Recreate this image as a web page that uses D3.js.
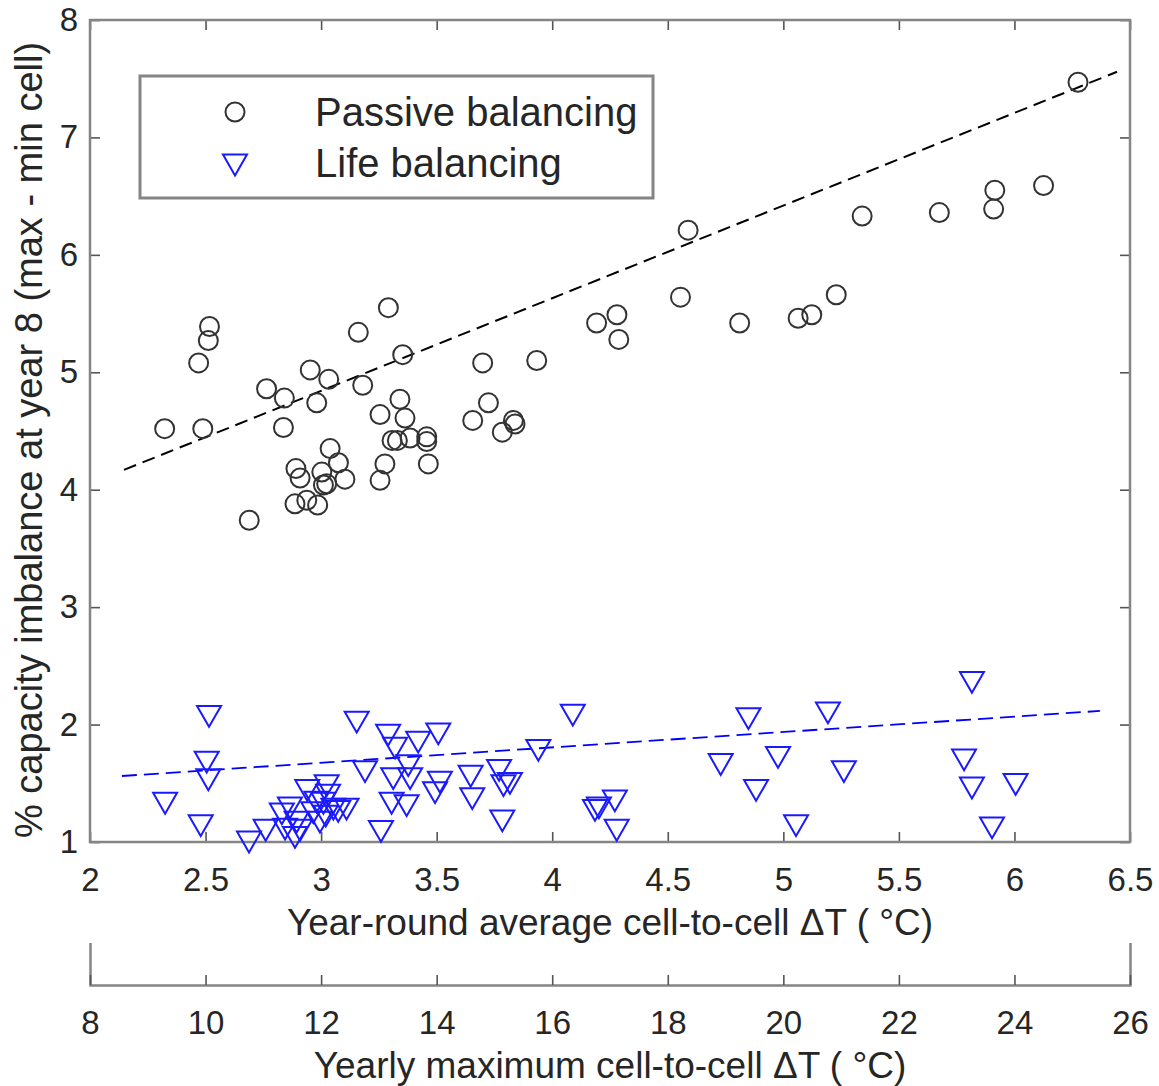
<!DOCTYPE html>
<html>
<head>
<meta charset="utf-8">
<script src="https://cdn.jsdelivr.net/npm/d3@7"></script>
<style>
  body { margin: 0; background: #fff; }
  svg { display: block; font-family: "Liberation Sans", Arial, sans-serif; }
</style>
</head>
<body>
<div id="chart"></div>
<script>
// Passive balancing: [avg dT, % imbalance]
const passive = [
  [2.323, 4.52], [2.470, 5.08], [2.517, 5.39], [2.512, 5.27], [2.488, 4.52],
  [2.689, 3.74], [2.764, 4.86], [2.841, 4.78], [2.837, 4.53], [2.953, 5.02],
  [3.033, 4.94], [2.981, 4.74], [3.161, 5.34], [3.291, 5.55], [3.180, 4.89],
  [3.039, 4.35], [3.075, 4.23], [3.103, 4.09], [2.891, 4.18], [2.909, 4.10],
  [3.003, 4.15], [3.024, 4.05], [3.010, 4.04], [2.887, 3.88], [2.938, 3.91],
  [2.985, 3.87], [3.255, 4.64], [3.276, 4.22], [3.255, 4.08], [3.353, 5.15],
  [3.341, 4.77], [3.363, 4.61], [3.330, 4.42], [3.307, 4.42], [3.385, 4.44],
  [3.457, 4.45], [3.457, 4.41], [3.464, 4.22], [3.699, 5.08], [3.933, 5.10],
  [3.724, 4.74], [3.656, 4.59], [3.784, 4.49], [3.832, 4.59], [3.839, 4.56],
  [4.192, 5.42], [4.280, 5.49], [4.288, 5.28], [4.555, 5.64], [4.588, 6.21],
  [4.811, 5.42], [5.064, 5.46], [5.123, 5.49], [5.229, 5.66], [5.341, 6.33],
  [5.675, 6.36], [5.915, 6.55], [5.910, 6.39], [6.126, 6.59], [6.275, 7.47]
];

// Life balancing
const life = [
  [2.515, 2.07], [2.505, 1.68], [2.512, 1.53], [2.325, 1.33], [2.479, 1.14],
  [2.688, 1.00], [2.760, 1.10], [2.830, 1.24], [2.865, 1.29], [2.844, 1.11],
  [2.887, 1.04], [2.894, 1.17], [2.909, 1.10], [2.940, 1.44], [2.966, 1.25],
  [2.980, 1.34], [2.995, 1.17], [3.024, 1.48], [3.030, 1.40], [3.010, 1.33],
  [3.053, 1.28], [3.074, 1.26], [3.110, 1.28], [3.020, 1.22],
  [3.154, 2.02], [3.190, 1.60], [3.259, 1.09], [3.290, 1.91], [3.320, 1.80],
  [3.420, 1.85], [3.507, 1.92], [3.377, 1.65], [3.312, 1.54], [3.385, 1.54],
  [3.305, 1.33], [3.370, 1.31], [3.514, 1.51], [3.493, 1.42], [3.647, 1.56],
  [3.654, 1.37], [3.770, 1.61], [3.789, 1.48], [3.817, 1.50], [3.784, 1.18],
  [3.940, 1.78], [4.089, 2.08], [4.185, 1.27], [4.202, 1.29], [4.271, 1.35],
  [4.279, 1.10], [4.849, 2.05], [5.193, 2.10], [5.816, 2.36], [4.729, 1.66],
  [4.977, 1.72], [5.262, 1.60], [4.882, 1.44], [5.782, 1.70], [5.816, 1.46],
  [6.005, 1.49], [5.903, 1.12], [5.055, 1.14]
];

// fitted trend lines (end points)
const passiveFit = [[2.147, 4.169], [6.444, 7.559]];
const lifeFit = [[2.138, 1.562], [6.370, 2.116]];

const xTicks = [2, 2.5, 3, 3.5, 4, 4.5, 5, 5.5, 6, 6.5];
const xTickLabels = ["2", "2.5", "3", "3.5", "4", "4.5", "5", "5.5", "6", "6.5"];
const yTicks = [1, 2, 3, 4, 5, 6, 7, 8];
const x2Ticks = [8, 10, 12, 14, 16, 18, 20, 22, 24, 26];

const width = 1159, height = 1086;
const marginLeft = 90, plotRight = 1130, plotTop = 20, plotBottom = 842;
const axis2Y = 985;

const x = d3.scaleLinear().domain([2, 6.5]).range([marginLeft, plotRight]);
const y = d3.scaleLinear().domain([1, 8]).range([plotBottom, plotTop]);
const x2 = d3.scaleLinear().domain([8, 26]).range([marginLeft, plotRight]);

const svg = d3.select("#chart").append("svg")
  .attr("width", width)
  .attr("height", height);

const textColor = "#262626";
const tickFont = 33;

function styleAxis(g) {
  g.selectAll(".tick line").attr("stroke", "#555").attr("stroke-width", 1.6);
  g.selectAll(".tick text").attr("fill", textColor).attr("font-size", tickFont)
    .attr("font-family", "Liberation Sans, Arial, sans-serif");
}

// bottom axis
svg.append("g")
  .attr("transform", `translate(0,${plotBottom})`)
  .call(d3.axisBottom(x).tickValues(xTicks)
    .tickFormat((d, i) => xTickLabels[i])
    .tickSize(-10).tickSizeOuter(0).tickPadding(26))
  .call(g => g.select(".domain").remove())
  .call(styleAxis);

// top axis (ticks only)
svg.append("g")
  .attr("transform", `translate(0,${plotTop})`)
  .call(d3.axisTop(x).tickValues(xTicks).tickFormat("").tickSize(-10).tickSizeOuter(0))
  .call(g => g.select(".domain").remove())
  .call(styleAxis);

// left axis
svg.append("g")
  .attr("transform", `translate(${marginLeft},0)`)
  .call(d3.axisLeft(y).tickValues(yTicks).tickFormat(d3.format("d"))
    .tickSize(-10).tickSizeOuter(0).tickPadding(12))
  .call(g => g.select(".domain").remove())
  .call(styleAxis);

// right axis (ticks only)
svg.append("g")
  .attr("transform", `translate(${plotRight},0)`)
  .call(d3.axisRight(y).tickValues(yTicks).tickFormat("").tickSize(-10).tickSizeOuter(0))
  .call(g => g.select(".domain").remove())
  .call(styleAxis);

// box
svg.append("rect")
  .attr("x", marginLeft).attr("y", plotTop)
  .attr("width", plotRight - marginLeft).attr("height", plotBottom - plotTop)
  .attr("fill", "none").attr("stroke", "#858585").attr("stroke-width", 2.5);

// trend lines
const line = d3.line().x(d => x(d[0])).y(d => y(d[1]));
svg.append("path").datum(passiveFit).attr("d", line)
  .attr("fill", "none").attr("stroke", "#000").attr("stroke-width", 2)
  .attr("stroke-dasharray", "13,7");
svg.append("path").datum(lifeFit).attr("d", line)
  .attr("fill", "none").attr("stroke", "#0000ff").attr("stroke-width", 1.8)
  .attr("stroke-dasharray", "15,7");

// markers
const tri = "M-12,-10.4L12,-10.4L0,10.4Z";

svg.append("g").selectAll("circle").data(passive).join("circle")
  .attr("cx", d => x(d[0])).attr("cy", d => y(d[1])).attr("r", 9.5)
  .attr("fill", "none").attr("stroke", "#333").attr("stroke-width", 2);

svg.append("g").selectAll("path").data(life).join("path")
  .attr("transform", d => `translate(${x(d[0])},${y(d[1])})`)
  .attr("d", tri)
  .attr("fill", "none").attr("stroke", "#1a1aff").attr("stroke-width", 2)
  .attr("stroke-linejoin", "miter");

// legend
const legend = svg.append("g");
legend.append("rect")
  .attr("x", 140).attr("y", 76).attr("width", 513).attr("height", 122)
  .attr("fill", "#fff").attr("stroke", "#858585").attr("stroke-width", 3);
legend.append("circle").attr("cx", 235).attr("cy", 112).attr("r", 9.5)
  .attr("fill", "none").attr("stroke", "#333").attr("stroke-width", 2);
legend.append("path").attr("transform", "translate(235,165)").attr("d", tri)
  .attr("fill", "none").attr("stroke", "#1a1aff").attr("stroke-width", 2);
legend.append("text").attr("x", 315).attr("y", 126).attr("font-size", 40)
  .attr("fill", textColor).text("Passive balancing");
legend.append("text").attr("x", 315).attr("y", 177).attr("font-size", 40)
  .attr("fill", textColor).text("Life balancing");

// axis titles
svg.append("text")
  .attr("x", (marginLeft + plotRight) / 2).attr("y", 935)
  .attr("text-anchor", "middle").attr("font-size", 37).attr("fill", textColor)
  .text("Year-round average cell-to-cell \u0394T ( \u00B0C)");

svg.append("text")
  .attr("transform", `translate(42,${(plotTop + plotBottom) / 2 + 9}) rotate(-90)`)
  .attr("text-anchor", "middle").attr("font-size", 38).attr("fill", textColor)
  .text("% capacity imbalance at year 8 (max - min cell)");

// second x axis
svg.append("g")
  .attr("transform", `translate(0,${axis2Y})`)
  .call(d3.axisBottom(x2).tickValues(x2Ticks).tickFormat(d3.format("d"))
    .tickSize(-10).tickSizeOuter(-42).tickPadding(26))
  .call(g => g.select(".domain").attr("stroke", "#858585").attr("stroke-width", 2.5))
  .call(styleAxis);

svg.append("text")
  .attr("x", (marginLeft + plotRight) / 2).attr("y", 1078)
  .attr("text-anchor", "middle").attr("font-size", 37).attr("fill", textColor)
  .text("Yearly maximum cell-to-cell \u0394T ( \u00B0C)");
</script>
</body>
</html>
